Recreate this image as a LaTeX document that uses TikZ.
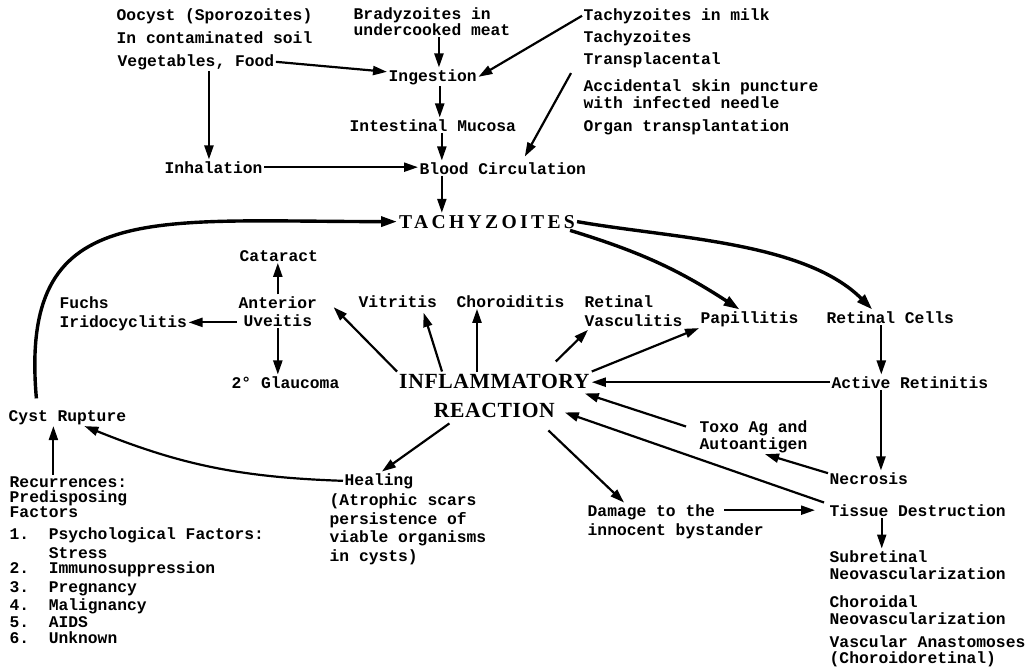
\documentclass[tikz,border=0pt]{standalone}
\usepackage{fontspec}
\usetikzlibrary{arrows.meta}
\newfontfamily\labelfont{Liberation Mono}
\newfontfamily\tachyfont{Liberation Serif}[LetterSpace=17]
\newfontfamily\inflfont{Liberation Serif}[LetterSpace=3]
\frenchspacing

\tikzset{
  lbl/.style={font={\labelfont\bfseries\fontsize{16.3}{17}\selectfont}, inner sep=1.5pt, anchor=base west},
  lbls/.style={lbl, align=left, font={\labelfont\bfseries\fontsize{16.3}{#1}\selectfont}},
  lbls/.default=17,
  arr/.style={-{Triangle[length=14pt,width=9pt]}, line width=2.2pt},
  thickarr/.style={-{Triangle[length=16pt,width=10pt]}, line width=3.4pt},
}

\begin{document}
\begin{tikzpicture}[x=1pt,y=1pt]
  \useasboundingbox[fill=white] (0,0) rectangle (1032,-667);

  \node[lbl] (oocyst) at (115,-20) {Oocyst (Sporozoites)};
  \node[lbl] (soil) at (115,-43) {In contaminated soil};
  \node[lbl] (veg) at (116,-66) {Vegetables, Food};
  \node[lbls=16] (brady) at (352,-35) {Bradyzoites in\\undercooked meat};
  \node[lbl] (inges) at (387,-81) {Ingestion};
  \node[lbl] (mucosa) at (348,-131) {Intestinal Mucosa};
  \node[lbl] (blood) at (418,-174) {Blood Circulation};
  \node[lbl] (inhal) at (163,-173) {Inhalation};
  \node[lbl] (milk) at (582,-20) {Tachyzoites in milk};
  \node[lbl] (tachyb) at (582,-42) {Tachyzoites};
  \node[lbl] (transpl) at (582,-64) {Transplacental};
  \node[lbls] (needle) at (582,-108) {Accidental skin puncture\\with infected needle};
  \node[lbl] (organ) at (582,-131) {Organ transplantation};

  \node[anchor=base west, inner sep=2pt, font={\tachyfont\bfseries\fontsize{19.6}{20}\selectfont}] (tachy) at (397,-228) {TACHYZOITES};
  \node[anchor=base west, inner sep=2pt, align=center, font={\inflfont\bfseries\fontsize{21.6}{29}\selectfont}] (infl) at (397,-417) {INFLAMMATORY\\REACTION};

  \node[lbl] (cataract) at (238,-261) {Cataract};
  \node[lbls=18, align=center] (uveitis) at (237,-326) {Anterior\\Uveitis};
  \node[lbls=18.5] (fuchs) at (58,-327) {Fuchs\\Iridocyclitis};
  \node[lbl] (glaucoma) at (230,-388) {2° Glaucoma};
  \node[lbl] (cyst) at (7,-421) {Cyst Rupture};
  \node[lbl] (vitritis) at (357,-307) {Vitritis};
  \node[lbl] (choroid) at (455,-307) {Choroiditis};
  \node[lbls=19] (vascul) at (583,-326) {Retinal\\Vasculitis};
  \node[lbl] (papill) at (699,-323) {Papillitis};
  \node[lbl] (retcells) at (825,-323) {Retinal Cells};
  \node[lbl] (active) at (830,-388) {Active Retinitis};
  \node[lbls] (toxo) at (698,-449) {Toxo Ag and\\Autoantigen};
  \node[lbl] (necrosis) at (828,-484) {Necrosis};
  \node[lbl] (tissue) at (828,-516) {Tissue Destruction};
  \node[lbls=19] (damage) at (586,-535) {Damage to the\\innocent bystander};
  \node[lbls] (subret) at (828,-579) {Subretinal\\Neovascularization};
  \node[lbls] (choroidal) at (828,-624) {Choroidal\\Neovascularization};
  \node[lbls=16] (anast) at (828,-663) {Vascular Anastomoses\\(Choroidoretinal)};
  \node[lbl] (heal) at (343,-485) {Healing};
  \node[lbls=18.5] (healnote) at (328,-561) {(Atrophic scars\\persistence of\\viable organisms\\in cysts)};
  \node[lbls=15] (recur) at (8,-517) {Recurrences:\\Predisposing\\Factors};
  \node[lbls] (factors) at (8,-643) {1.~~Psychological Factors:\\[2pt]\phantom{1.~~}Stress\\[-2pt]2.~~Immunosuppression\\[2pt]3.~~Pregnancy\\[1pt]4.~~Malignancy\\5.~~AIDS\\[-1pt]6.~~Unknown};

  \draw[arr] ([xshift=7pt]brady.south) -- ([xshift=7pt]brady.south |- inges.north);
  \draw[arr] (veg.east) -- ([yshift=5pt]inges.west);
  \draw[arr] (milk.west) -- (inges.east);
  \draw[arr] ([xshift=13pt]veg.south) -- ([xshift=13pt]veg.south |- inhal.north);
  \draw[arr] ([xshift=7pt]inges.south) -- ([xshift=7pt]inges.south |- mucosa.north);
  \draw[arr] ([xshift=9pt]mucosa.south) -- ([xshift=9pt]mucosa.south |- blood.north);
  \draw[arr] ([xshift=-11pt,yshift=-4pt]transpl.south west) -- ([xshift=22pt,yshift=4pt]blood.north);
  \draw[arr] (inhal.east) -- (inhal.east -| blood.west);
  \draw[arr] ([xshift=9pt]mucosa.south |- blood.south) -- ([xshift=9pt]mucosa.south |- tachy.north);

  \draw[thickarr] ([xshift=-31pt,yshift=10pt]cyst.north) .. controls +(95:200) and +(180:250) .. (tachy.west);
  \draw[thickarr] ([xshift=-7pt]tachy.south east) to[bend left=8] ([xshift=-10pt]papill.north);
  \draw[thickarr] (tachy.east) to[out=-10,in=135,looseness=0.8] ([xshift=-18pt]retcells.north);

  \draw[arr] (uveitis.north) -- (uveitis.north |- cataract.south);
  \draw[arr] ([yshift=5.5pt]uveitis.south west) -- ([yshift=5.5pt]uveitis.south west -| fuchs.east);
  \draw[arr] (uveitis.south) -- (uveitis.south |- glaucoma.north);
  \draw[arr] (infl.north west) -- ([xshift=15pt,yshift=4pt]uveitis.east);
  \draw[arr] ([xshift=45pt]infl.north west) -- ([xshift=-15pt,yshift=-4pt]vitritis.south east);
  \draw[arr] ([xshift=80pt]infl.north west) -- ([xshift=80pt]infl.north west |- choroid.south);
  \draw[arr] ([xshift=-36pt,yshift=10pt]infl.north east) -- ([xshift=5pt,yshift=-2pt]vascul.south west);
  \draw[arr] (infl.north east) -- (papill.south west);

  \draw[arr] ([xshift=-9pt]retcells.south) -- ([xshift=-9pt]retcells.south |- active.north);
  \draw[arr] (active.west) -- (active.west -| infl.east);
  \draw[arr] ([xshift=-12pt,yshift=-8pt]toxo.north west) -- ([xshift=-7pt,yshift=2pt]infl.east);
  \draw[arr] ([xshift=-4pt]tissue.north west) -- ([xshift=-27pt,yshift=7pt]infl.south east);
  \draw[arr] ([yshift=5pt]necrosis.west) -- ([xshift=-44pt]toxo.south east);
  \draw[arr] ([xshift=-29pt]active.south) -- ([xshift=-29pt]active.south |- necrosis.north);
  \draw[arr] ([xshift=54pt,yshift=-11pt]infl.south) -- ([xshift=38pt]damage.north west);
  \draw[arr] ([xshift=-41pt]damage.north east |- tissue.west) -- ([xshift=-13pt]tissue.west);
  \draw[arr] ([xshift=-36pt]tissue.south) -- ([xshift=-36pt]tissue.south |- subret.north);

  \draw[arr] ([xshift=-45pt,yshift=-4pt]infl.south) -- ([xshift=3pt]heal.north);
  \draw[arr] (heal.west) to[bend left=10] ([xshift=17pt]cyst.south);
  \draw[arr] ([xshift=-14pt]cyst.south |- recur.north) -- ([xshift=-14pt]cyst.south);
\end{tikzpicture}
\end{document}
